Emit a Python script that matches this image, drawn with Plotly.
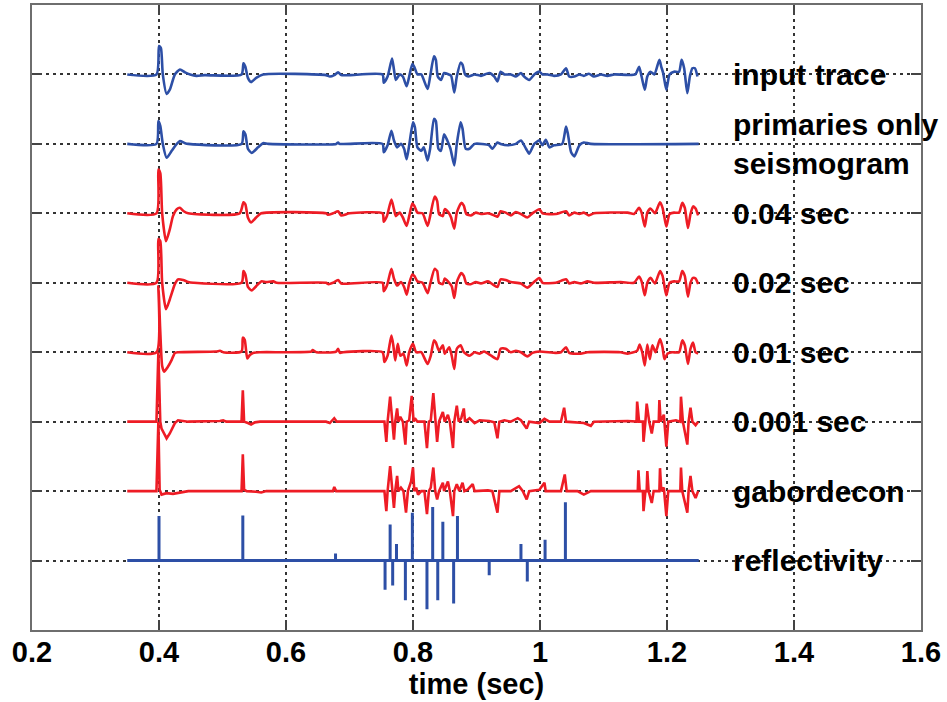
import plotly.graph_objects as go

BLUE = "#2d4fa6"
RED = "#ee1c25"

# ---- data (time in sec, amplitude in trace units) ----
input_t = [0.350, 0.396, 0.400, 0.403, 0.406, 0.412, 0.417, 0.425, 0.433, 0.441, 0.449, 0.459, 0.472,
           0.530, 0.533, 0.536, 0.540, 0.545, 0.553, 0.564, 0.663, 0.669, 0.676, 0.682, 0.687, 0.700,
           0.752, 0.754, 0.760, 0.767, 0.770, 0.773, 0.779, 0.784, 0.790, 0.794, 0.799, 0.802, 0.807,
           0.813, 0.823, 0.827, 0.833, 0.836, 0.839, 0.844, 0.849, 0.856, 0.860, 0.865, 0.869, 0.875,
           0.878, 0.882, 0.887, 0.897, 0.907, 0.920, 0.928, 0.933, 0.938, 0.944, 0.954, 0.962, 0.970,
           0.975, 0.983, 0.991, 0.999, 1.004, 1.012, 1.022, 1.033, 1.041, 1.046, 1.054, 1.062, 1.069,
           1.077, 1.085, 1.096, 1.106, 1.117, 1.150, 1.156, 1.160, 1.165, 1.169, 1.174, 1.180, 1.188,
           1.191, 1.194, 1.199, 1.204, 1.211, 1.219, 1.223, 1.227, 1.232, 1.236, 1.240, 1.244, 1.248]
input_a = [0, 0, 0.41, 0.38, 0, -0.28, -0.22, 0, 0.07, 0.03, 0, -0.02, -0.01,
           0, 0.16, 0.11, -0.05, -0.11, -0.05, 0, -0.01, -0.03, -0.01, 0.03, -0.01, -0.01,
           0, -0.12, -0.03, 0.23, 0.07, -0.08, 0, -0.03, -0.17, -0.03, 0.15, 0.11, 0,
           0, -0.21, -0.03, 0.26, 0.21, -0.03, -0.08, 0.02, 0, -0.02, -0.26, -0.03, 0.17,
           0.14, 0, -0.03, 0, -0.02, 0.02, -0.03, -0.10, 0.04, 0, 0, -0.03, 0.02,
           -0.03, -0.08, 0, 0.04, 0, 0, -0.02, 0, 0.09, -0.03, -0.03, 0, -0.02,
           0.01, -0.03, 0, -0.02, 0, 0, 0.11, -0.03, -0.22, -0.03, 0.04, 0, 0.21,
           0.11, 0.02, -0.22, 0, 0.04, 0.04, 0.21, 0.09, -0.27, -0.03, 0.09, 0.09, -0.03]

prim_t = [0.350, 0.396, 0.399, 0.402, 0.406, 0.412, 0.420, 0.428, 0.433, 0.441, 0.446, 0.530, 0.533,
          0.536, 0.540, 0.546, 0.556, 0.564, 0.572, 0.679, 0.682, 0.684, 0.752, 0.754, 0.760, 0.766,
          0.770, 0.775, 0.781, 0.786, 0.790, 0.794, 0.800, 0.803, 0.807, 0.813, 0.817, 0.823, 0.827,
          0.833, 0.836, 0.840, 0.844, 0.849, 0.854, 0.859, 0.865, 0.869, 0.875, 0.878, 0.883, 0.889,
          0.897, 0.920, 0.925, 0.933, 0.938, 0.949, 0.962, 0.970, 0.978, 0.983, 0.991, 0.999, 1.004,
          1.009, 1.015, 1.022, 1.035, 1.041, 1.044, 1.049, 1.054, 1.062, 1.069, 1.080, 1.250]
prim_a = [0, 0, 0.33, 0.26, 0, -0.20, -0.10, 0, 0.04, 0.01, 0, 0, 0.18,
          0.14, -0.07, -0.13, -0.05, 0.01, 0, 0, 0.02, 0, 0, -0.12, -0.02, 0.19,
          0.05, -0.05, 0, -0.07, -0.22, -0.02, 0.31, 0.24, -0.05, -0.10, -0.05, -0.24, -0.07,
          0.36, 0.33, -0.07, -0.10, 0.14, 0.05, -0.07, -0.31, 0, 0.31, 0.22, -0.07, -0.07,
          0, -0.02, -0.07, 0.02, 0, -0.02, 0, 0.05, -0.07, -0.14, 0, 0.05, -0.02,
          0.06, -0.05, -0.02, 0, 0.25, 0.14, -0.12, -0.18, -0.02, 0.02, 0, 0]

d04_t = [0.350, 0.396, 0.399, 0.402, 0.405, 0.411, 0.417, 0.422, 0.428, 0.433, 0.439, 0.446, 0.527,
         0.533, 0.536, 0.540, 0.545, 0.553, 0.561, 0.663, 0.666, 0.674, 0.682, 0.687, 0.700, 0.752,
         0.754, 0.759, 0.766, 0.770, 0.773, 0.779, 0.784, 0.790, 0.794, 0.799, 0.802, 0.807, 0.815,
         0.823, 0.827, 0.834, 0.838, 0.841, 0.847, 0.850, 0.856, 0.860, 0.865, 0.869, 0.876, 0.880,
         0.884, 0.891, 0.899, 0.907, 0.918, 0.928, 0.933, 0.938, 0.946, 0.954, 0.962, 0.970, 0.980,
         0.988, 0.999, 1.004, 1.025, 1.041, 1.046, 1.054, 1.062, 1.069, 1.077, 1.085, 1.138, 1.148,
         1.156, 1.160, 1.165, 1.169, 1.174, 1.181, 1.189, 1.193, 1.196, 1.199, 1.204, 1.211, 1.219,
         1.224, 1.228, 1.233, 1.237, 1.241, 1.245, 1.249]
d04_a = [0, 0, 0.63, 0.58, 0, -0.40, -0.23, -0.04, 0.06, 0.08, 0.03, 0, 0,
         0.16, 0.13, -0.06, -0.13, -0.06, 0, 0, -0.02, 0, 0.03, -0.03, 0, 0,
         -0.12, -0.04, 0.20, 0.06, -0.04, 0.01, -0.06, -0.18, -0.04, 0.14, 0.11, 0.01, 0,
         -0.18, -0.04, 0.24, 0.18, -0.01, -0.04, 0.06, 0.01, -0.06, -0.22, 0.01, 0.15, 0.11,
         -0.01, -0.03, 0.01, -0.01, 0, -0.03, -0.05, 0.03, 0.01, -0.03, 0.02, -0.01, -0.06,
         0, 0.06, 0, -0.01, 0.03, -0.03, 0.01, -0.01, 0.01, -0.03, 0, 0.01, -0.01,
         0.08, 0.01, -0.19, 0.01, 0.07, 0, 0.16, 0.08, -0.06, -0.19, -0.01, 0.01, 0.01,
         0.15, 0.08, -0.21, -0.01, 0.10, 0.07, -0.03]

d02_t = [0.350, 0.396, 0.399, 0.402, 0.405, 0.411, 0.417, 0.425, 0.430, 0.438, 0.446, 0.454, 0.530,
         0.533, 0.536, 0.540, 0.546, 0.553, 0.561, 0.569, 0.580, 0.585, 0.663, 0.667, 0.674, 0.682,
         0.687, 0.752, 0.754, 0.759, 0.766, 0.770, 0.775, 0.781, 0.786, 0.790, 0.794, 0.799, 0.802,
         0.807, 0.815, 0.823, 0.827, 0.834, 0.838, 0.841, 0.847, 0.850, 0.856, 0.861, 0.865, 0.869,
         0.876, 0.880, 0.884, 0.891, 0.899, 0.907, 0.918, 0.925, 0.933, 0.938, 0.946, 0.954, 0.970,
         0.980, 0.988, 0.999, 1.004, 1.025, 1.041, 1.046, 1.054, 1.064, 1.075, 1.085, 1.127, 1.148,
         1.156, 1.160, 1.165, 1.169, 1.174, 1.181, 1.189, 1.193, 1.196, 1.199, 1.204, 1.211, 1.219,
         1.224, 1.228, 1.233, 1.237, 1.241, 1.245, 1.249]
d02_a = [0, 0, 0.63, 0.60, 0, -0.38, -0.24, -0.02, 0.05, 0.04, 0.01, 0, 0,
         0.17, 0.12, -0.06, -0.11, -0.05, 0.02, 0.01, 0.02, 0, 0, -0.02, 0, 0.04,
         -0.01, 0, -0.12, -0.04, 0.20, 0.06, -0.04, 0.01, -0.06, -0.17, -0.01, 0.12, 0.10,
         0.02, 0, -0.15, -0.02, 0.20, 0.17, 0, -0.02, 0.06, 0.01, -0.05, -0.22, 0.01,
         0.14, 0.10, -0.01, -0.02, 0.01, -0.01, 0.02, -0.02, -0.06, 0.05, 0.04, 0.01, -0.01,
         -0.07, -0.01, 0.07, 0, 0, 0.05, -0.01, 0.01, -0.01, 0.02, 0, 0.01, 0,
         0.09, 0.02, -0.18, 0, 0.07, -0.01, 0.17, 0.10, -0.05, -0.18, 0, 0.02, 0.02,
         0.17, 0.10, -0.20, 0, 0.07, 0.06, -0.02]

d01_t = [0.350, 0.396, 0.399, 0.402, 0.405, 0.408, 0.414, 0.420, 0.425, 0.430, 0.490, 0.496, 0.501,
         0.530, 0.532, 0.535, 0.539, 0.543, 0.548, 0.559, 0.640, 0.642, 0.648, 0.679, 0.682, 0.685,
         0.690, 0.752, 0.755, 0.760, 0.766, 0.769, 0.772, 0.776, 0.780, 0.785, 0.790, 0.794, 0.800,
         0.805, 0.813, 0.823, 0.828, 0.833, 0.836, 0.841, 0.847, 0.850, 0.857, 0.861, 0.865, 0.869,
         0.875, 0.880, 0.889, 0.897, 0.905, 0.912, 0.923, 0.933, 0.938, 0.946, 0.954, 0.962, 0.970,
         0.980, 0.988, 0.999, 1.025, 1.033, 1.041, 1.046, 1.064, 1.075, 1.127, 1.138, 1.153, 1.157,
         1.161, 1.165, 1.169, 1.173, 1.177, 1.182, 1.189, 1.193, 1.196, 1.201, 1.208, 1.219, 1.224,
         1.228, 1.233, 1.237, 1.241, 1.245, 1.249]
d01_a = [0, 0, 0.95, 0.30, -0.20, -0.28, -0.21, -0.11, -0.01, 0, 0.01, 0.02, 0,
         0.01, 0.21, 0.18, -0.09, -0.04, -0.01, 0, 0.01, 0.03, 0, 0.01, 0.05, -0.01,
         0, 0, -0.14, -0.05, 0.24, 0.10, -0.12, 0.12, -0.05, -0.02, -0.19, 0, 0.12,
         0, 0, -0.17, -0.05, 0.17, 0.14, 0.02, 0.10, -0.02, 0.07, -0.05, -0.24, 0.05,
         0.10, 0, -0.05, 0, -0.02, 0.01, -0.05, -0.10, 0.05, 0.05, 0, 0.02, 0,
         -0.06, -0.01, 0.01, -0.01, 0, 0.07, -0.01, -0.02, 0, 0, -0.02, 0.02, 0.11,
         0, -0.19, 0.11, -0.10, 0.10, 0, 0.19, 0.07, -0.10, -0.02, 0, 0, 0.17,
         0.10, -0.17, 0.05, 0.14, 0, -0.02]

d001_t = [0.350, 0.396, 0.399, 0.402, 0.404, 0.412, 0.417, 0.425, 0.430, 0.438, 0.446, 0.496, 0.501,
          0.506, 0.530, 0.532, 0.534, 0.540, 0.545, 0.551, 0.559, 0.663, 0.669, 0.676, 0.680, 0.752,
          0.755, 0.758, 0.760, 0.764, 0.767, 0.770, 0.772, 0.775, 0.777, 0.780, 0.784, 0.788, 0.790,
          0.794, 0.798, 0.801, 0.803, 0.807, 0.818, 0.822, 0.825, 0.828, 0.832, 0.835, 0.838, 0.841,
          0.844, 0.847, 0.850, 0.855, 0.858, 0.863, 0.865, 0.869, 0.872, 0.876, 0.880, 0.882, 0.889,
          0.897, 0.905, 0.920, 0.928, 0.933, 0.936, 0.944, 0.954, 0.965, 0.970, 0.979, 0.983, 0.999,
          1.007, 1.015, 1.033, 1.038, 1.041, 1.059, 1.069, 1.080, 1.085, 1.138, 1.152, 1.153, 1.156,
          1.162, 1.163, 1.166, 1.168, 1.172, 1.176, 1.179, 1.187, 1.188, 1.190, 1.195, 1.199, 1.202,
          1.214, 1.221, 1.222, 1.225, 1.232, 1.234, 1.237, 1.240, 1.245, 1.249]
d001_a = [0, 0, 1.0, 0.0, -0.10, -0.24, -0.17, -0.02, 0.02, 0.01, 0, 0.01, 0.02,
          0, 0, 0.45, 0, -0.02, -0.04, -0.01, 0, 0, -0.02, 0.05, 0, 0,
          0, -0.29, 0, 0.36, 0, -0.26, 0, 0.19, 0, 0.07, 0, -0.33, 0,
          0.02, 0.37, 0, 0.05, 0, 0, -0.38, 0, 0.02, 0.41, 0, -0.29, 0,
          0.07, 0.14, 0, 0.10, 0, -0.38, 0, 0.23, 0, 0.05, 0.19, 0, 0.05,
          -0.02, 0.02, 0.01, -0.01, -0.24, 0, 0.02, 0, 0.05, 0.02, -0.10, 0, -0.02,
          0.04, 0, 0, 0.20, 0, -0.01, -0.02, -0.06, 0, 0.01, 0, 0.29, 0,
          0, -0.29, 0, 0.26, 0, -0.17, 0, 0, 0.31, 0, 0.10, -0.36, 0,
          0.02, 0, 0.36, 0, -0.33, 0, 0.20, 0, -0.05, 0]

gabor_t = [0.350, 0.396, 0.399, 0.401, 0.404, 0.412, 0.422, 0.433, 0.446, 0.530, 0.532, 0.534, 0.538,
           0.553, 0.561, 0.569, 0.674, 0.676, 0.679, 0.752, 0.755, 0.758, 0.760, 0.764, 0.767, 0.770,
           0.772, 0.775, 0.777, 0.781, 0.785, 0.789, 0.792, 0.797, 0.800, 0.802, 0.805, 0.808, 0.813,
           0.818, 0.822, 0.825, 0.828, 0.832, 0.835, 0.838, 0.841, 0.847, 0.849, 0.855, 0.858, 0.863,
           0.865, 0.869, 0.873, 0.878, 0.881, 0.886, 0.894, 0.897, 0.918, 0.925, 0.933, 0.936, 0.954,
           0.967, 0.973, 0.979, 0.983, 0.999, 1.007, 1.009, 1.033, 1.039, 1.042, 1.059, 1.069, 1.080,
           1.154, 1.155, 1.157, 1.162, 1.163, 1.166, 1.168, 1.169, 1.171, 1.176, 1.179, 1.188, 1.189,
           1.191, 1.195, 1.199, 1.202, 1.214, 1.221, 1.222, 1.224, 1.232, 1.234, 1.237, 1.240, 1.245, 1.249]
gabor_a = [0, 0, 1.0, 0.02, -0.05, -0.03, -0.04, -0.02, 0, 0, 0.53, 0.02, 0,
           -0.01, -0.02, 0, 0, 0.06, 0, 0, 0, -0.29, 0, 0.36, 0, -0.24,
           0, 0.22, 0, 0.05, 0, -0.31, 0, 0.14, 0.34, 0, 0.05, -0.05, 0,
           0, -0.33, 0, 0.05, 0.34, 0, -0.12, 0, 0.12, 0, 0.14, 0, -0.36,
           0, 0.10, 0, 0.12, 0, 0.02, 0.10, 0, 0.01, 0, -0.31, 0, 0,
           0.07, 0, -0.12, 0, 0.02, 0.12, 0, 0, 0.24, 0, 0, -0.05, 0,
           0, 0.30, 0, 0, -0.29, 0, 0, 0.29, 0, -0.17, 0, 0, 0.33,
           0, 0.05, -0.36, 0, 0, 0, 0.34, 0, -0.31, 0, 0.22, 0, -0.10, 0]

refl_t = [0.400, 0.532, 0.678, 0.756, 0.764, 0.768, 0.774, 0.788, 0.799, 0.822, 0.831, 0.839,
          0.847, 0.864, 0.870, 0.920, 0.970, 0.980, 1.008, 1.040]
refl_a = [0.64, 0.65, 0.10, -0.42, 0.52, -0.36, 0.24, -0.57, 0.69, -0.70, 0.77, -0.57,
          0.56, -0.62, 0.64, -0.21, 0.24, -0.30, 0.30, 0.84]
refl_span = [0.35, 1.25]

labels = ["input trace", "primaries only<br>seismogram", "0.04 sec", "0.02 sec",
          "0.01 sec", "0.001 sec", "gabordecon", "reflectivity"]
levels = [8, 7, 6, 5, 4, 3, 2, 1]
x_ticks = [0.2, 0.4, 0.6, 0.8, 1.0, 1.2, 1.4, 1.6]
x_ticktext = ["0.2", "0.4", "0.6", "0.8", "1", "1.2", "1.4", "1.6"]

series = [(input_t, input_a, BLUE, "spline"), (prim_t, prim_a, BLUE, "spline"),
          (d04_t, d04_a, RED, "spline"), (d02_t, d02_a, RED, "spline"),
          (d01_t, d01_a, RED, "spline"), (d001_t, d001_a, RED, "linear"),
          (gabor_t, gabor_a, RED, "linear")]

fig = go.Figure()
for (ts, amps, col, shp), lev in zip(series, levels[:7]):
    ln = dict(color=col, width=2.6, shape=shp)
    if shp == "spline":
        ln["smoothing"] = 0.6
    fig.add_trace(go.Scatter(x=ts, y=[lev + a for a in amps], mode="lines",
                             line=ln, showlegend=False, hoverinfo="skip"))

# reflectivity as spikes from its baseline
rx = [refl_span[0]]
ry = [levels[7]]
for t, a in zip(refl_t, refl_a):
    rx += [t, t, t]
    ry += [levels[7], levels[7] + a, levels[7]]
rx.append(refl_span[1])
ry.append(levels[7])
fig.add_trace(go.Scatter(x=rx, y=ry, mode="lines", line=dict(color=BLUE, width=3),
                         showlegend=False, hoverinfo="skip"))

FONT = "Liberation Sans, Arial, sans-serif"
for lab, lev in zip(labels, levels):
    fig.add_annotation(x=1.3, y=lev, xref="x", yref="y", text=lab, showarrow=False,
                       xanchor="left", yanchor="middle", align="left",
                       font=dict(family=FONT, size=30, color="black", weight="bold"))

axis_common = dict(showline=True, linecolor="#6e6e6e", linewidth=2, mirror="ticks",
                   ticks="inside", ticklen=10, tickcolor="#444", tickwidth=1.5,
                   showgrid=True, gridcolor="#333", gridwidth=1.5, griddash="3px,4px",
                   zeroline=False)

fig.update_xaxes(range=[0.2, 1.6], tickvals=x_ticks, ticktext=x_ticktext,
                 tickfont=dict(family=FONT, size=29, color="black", weight="bold"),
                 ticklabelstandoff=-5,
                 title=dict(text="time (sec)", standoff=0,
                            font=dict(family=FONT, size=29, color="black", weight="bold")),
                 **axis_common)
fig.update_yaxes(range=[0, 9], tickvals=levels, showticklabels=False, **axis_common)

fig.update_layout(width=947, height=702, margin=dict(l=32, r=26, t=3, b=72),
                  plot_bgcolor="white", paper_bgcolor="white")

fig.write_html("out.html")
